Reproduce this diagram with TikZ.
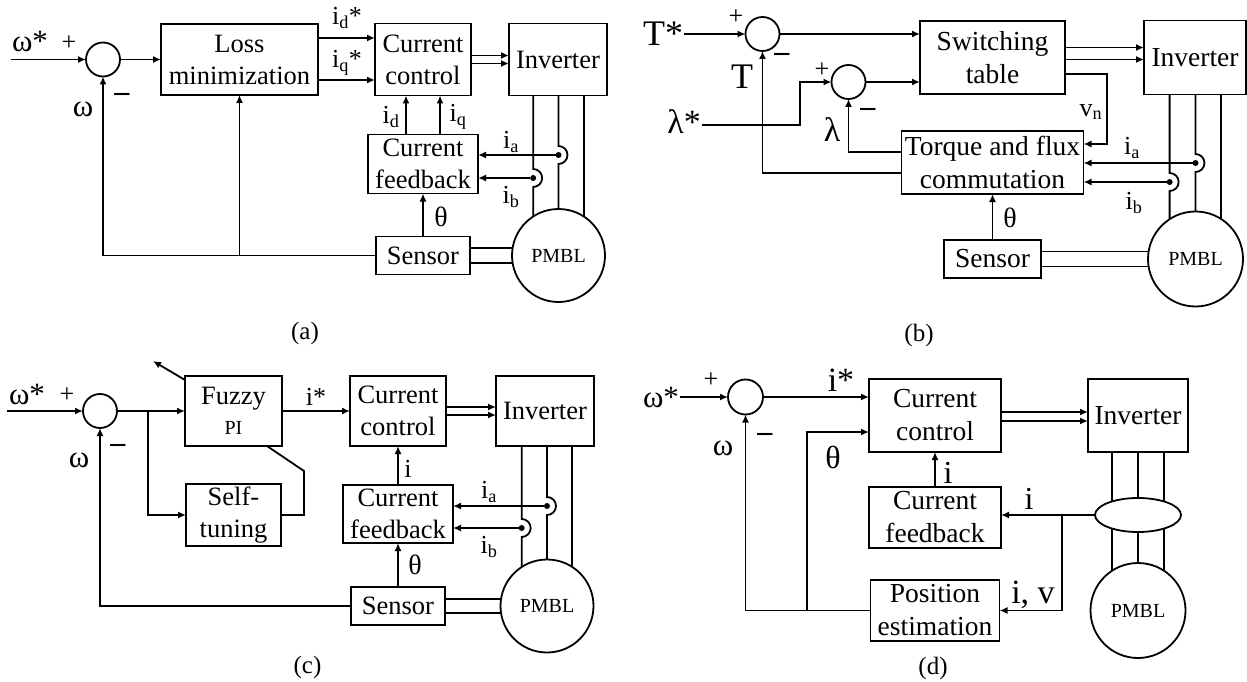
\documentclass[tikz,border=0pt]{standalone}
\usepackage{fontspec}
\setmainfont{Liberation Serif}
\usetikzlibrary{shapes.geometric,arrows.meta}

\begin{document}
\begin{tikzpicture}[x=1pt,y=-1pt]
      \tikzset{
        >={Latex[length=8pt,width=7pt]},
        every path/.style={line width=1.8pt},
        block/.style={rectangle,draw,align=center,inner sep=0pt,outer sep=0pt,font=\fontsize{26.5}{32}\selectfont},
        blockl/.style={block,font=\fontsize{27.5}{33}\selectfont},
        sumnode/.style={circle,draw,inner sep=0pt,outer sep=0pt,minimum size=34pt},
        motor/.style={circle,draw,inner sep=0pt,outer sep=0pt,minimum size=93pt,font=\fontsize{20}{20}\selectfont},
        dotnode/.style={circle,fill,inner sep=0pt,outer sep=0pt,minimum size=6pt},
        lab/.style={inner sep=0pt,font=\fontsize{#1}{#1}\selectfont},
        lab/.default=26
      }
      \useasboundingbox (0,0) rectangle (1247,682);

      % panel a
      \node[sumnode] (sa) at (103,59.5) {};
      \node[block,minimum width=157pt,minimum height=71pt,right of=sa,node distance=136.5pt] (lossa) {Loss\\minimization};
      \node[block,minimum width=96pt,minimum height=72pt,right of=lossa,node distance=183.5pt] (cca) {Current\\control};
      \node[block,minimum width=98pt,minimum height=72pt,right of=cca,node distance=135pt] (inva) {Inverter};
      \node[block,minimum width=110pt,minimum height=59pt,below of=cca,node distance=104.5pt] (fba) {Current\\feedback};
      \node[block,minimum width=94pt,minimum height=38pt,below of=fba,node distance=91.5pt] (sena) {Sensor};
      \node[motor,right of=sena,node distance=135.5pt] (pma) {PMBL};
      \node[dotnode] (ia_a) at (pma.north |- 0,155) {};
      \node[dotnode] (ib_a) at (pma.123 |- 0,178) {};
      \coordinate (ina) at (11,59.5);
      \coordinate (ja) at (lossa.south |- sena.west);

      \draw[->] (ina) -- (sa.west);
      \draw[->] (sa.east) -- (lossa.west);
      \draw[->] ([yshift=21.5pt]lossa.east) -- ([yshift=21.5pt]lossa.east -| cca.west);
      \draw[->] ([yshift=-20.5pt]lossa.east) -- ([yshift=-20.5pt]lossa.east -| cca.west);
      \draw[->] ([yshift=4pt]cca.east) -- ([yshift=4pt]cca.east -| inva.west);
      \draw[->] ([yshift=-4pt]cca.east) -- ([yshift=-4pt]cca.east -| inva.west);
      \draw[->] ([xshift=-17pt]fba.north) -- ([xshift=-17pt]fba.north |- cca.south);
      \draw[->] ([xshift=17pt]fba.north) -- ([xshift=17pt]fba.north |- cca.south);
      \draw[->] (sena.north) -- (fba.south);
      \draw[->] (sena.west) -| (sa.south);
      \draw[->] (ja) -- (lossa.south);
      \draw[->] (ia_a) -- (ia_a -| fba.east);
      \draw[->] (ib_a) -- (ib_a -| fba.east);
      \draw (pma.123 |- inva.south) -- ([yshift=9pt]ib_a.center) arc[start angle=90,end angle=-90,radius=9pt] -- (pma.123);
      \draw (pma.north |- inva.south) -- ([yshift=9pt]ia_a.center) arc[start angle=90,end angle=-90,radius=9pt] -- (pma.north);
      \draw (pma.57 |- inva.south) -- (pma.57);
      \draw (pma.171 -| sena.east) -- (pma.171);
      \draw (pma.189 -| sena.east) -- (pma.189);

      \node[lab=31] (wsa) at (30,42) {ω*};
      \node[lab] (pa) at (69,43) {+};
      \node[lab=30] (ma) at (122,97) {\textbf{–}};
      \node[lab=31] (wa) at (83,109) {ω};
      \node[lab] (idsa) at (347,18) {i\textsubscript{d}*};
      \node[lab] (iqsa) at (347,63) {i\textsubscript{q}*};
      \node[lab] (ida) at (391,117) {i\textsubscript{d}};
      \node[lab] (iqa) at (458,117) {i\textsubscript{q}};
      \node[lab] (iala) at (511,142) {i\textsubscript{a}};
      \node[lab] (ibla) at (511,197) {i\textsubscript{b}};
      \node[lab=28] (tha) at (441,217) {θ};
      \node[lab=25] (capa) at (305,333) {(a)};

      % panel b
      \node[sumnode] (s1b) at (762.5,34) {};
      \node[sumnode] (s2b) at (848.5,82) {};
      \node[blockl,minimum width=145pt,minimum height=73pt] (swb) at (992.5,57.5) {Switching\\table};
      \node[blockl,minimum width=102pt,minimum height=74pt,right of=swb,node distance=202.5pt] (invb) {Inverter};
      \node[blockl,minimum width=182pt,minimum height=63pt,below of=swb,node distance=105pt] (tqb) {Torque and flux\\commutation};
      \node[blockl,minimum width=97pt,minimum height=38pt,below of=tqb,node distance=96.5pt] (senb) {Sensor};
      \node[motor,minimum size=95pt,right of=senb,node distance=203pt] (pmb) {PMBL};
      \node[dotnode] (ia_b) at (pmb.north |- 0,163) {};
      \node[dotnode] (ib_b) at (pmb.123 |- 0,182) {};
      \coordinate (kb) at (800,125);

      \node[lab=36] (tsb) at (663,34) {T*};
      \node[lab=34] (lsb) at (684,122) {λ*};

      \draw[->] (tsb.east |- s1b.west) -- (s1b.west);
      \draw[->] (s1b.east) -- (s1b.east -| swb.west);
      \draw[->] (s2b.east) -- (s2b.east -| swb.west);
      \draw[->] (lsb.east |- kb) -- (kb) |- (s2b.west);
      \draw[->] ([yshift=10pt]swb.east) -- ([yshift=10pt]swb.east -| invb.west);
      \draw[->] ([yshift=-2pt]swb.east) -- ([yshift=-2pt]swb.east -| invb.west);
      \draw[->] ([yshift=-16.5pt]swb.east) -- ++(42pt,0) |- ([yshift=18.5pt]tqb.east);
      \draw[->] ([yshift=10.5pt]tqb.west) -| (s2b.south);
      \draw[->] ([yshift=-10.5pt]tqb.west) -| (s1b.south);
      \draw[->] (senb.north) -- (senb.north |- tqb.south);
      \draw[->] (ia_b) -- (ia_b -| tqb.east);
      \draw[->] (ib_b) -- (ib_b -| tqb.east);
      \draw (pmb.123 |- invb.south) -- ([yshift=9pt]ib_b.center) arc[start angle=90,end angle=-90,radius=9pt] -- (pmb.123);
      \draw (pmb.north |- invb.south) -- ([yshift=9pt]ia_b.center) arc[start angle=90,end angle=-90,radius=9pt] -- (pmb.north);
      \draw (pmb.57 |- invb.south) -- (pmb.57);
      \draw (pmb.171 -| senb.east) -- (pmb.171);
      \draw (pmb.189 -| senb.east) -- (pmb.189);

      \node[lab] (p1b) at (736,17) {+};
      \node[lab=30] (m1b) at (782,57) {\textbf{–}};
      \node[lab=36] (tb) at (742,77) {T};
      \node[lab] (p2b) at (822,70) {+};
      \node[lab=30] (m2b) at (868,112) {\textbf{–}};
      \node[lab=34] (lb) at (832,130) {λ};
      \node[lab] (vnb) at (1091,112) {v\textsubscript{n}};
      \node[lab] (ialb) at (1132,148) {i\textsubscript{a}};
      \node[lab] (iblb) at (1134,203) {i\textsubscript{b}};
      \node[lab=28] (thb) at (1010,218) {θ};
      \node[lab=25] (capb) at (919,335) {(b)};

      % panel c
      \node[sumnode] (sc) at (100,411) {};
      \node[block,minimum width=97pt,minimum height=70pt,right of=sc,node distance=133.5pt] (fzc) {Fuzzy\\[-2pt]{\fontsize{20}{20}\selectfont PI}};
      \node[block,minimum width=96pt,minimum height=70pt,right of=fzc,node distance=164.5pt] (ccc) {Current\\control};
      \node[block,minimum width=98pt,minimum height=70pt,right of=ccc,node distance=147pt] (invc) {Inverter};
      \node[block,minimum width=95pt,minimum height=62pt,below of=fzc,node distance=104pt] (tunec) {Self-\\tuning};
      \node[block,minimum width=110pt,minimum height=58pt,below of=ccc,node distance=103pt] (fbc) {Current\\feedback};
      \node[block,minimum width=94pt,minimum height=38pt,below of=fbc,node distance=92pt] (senc) {Sensor};
      \node[motor,right of=senc,node distance=149pt] (pmc) {PMBL};
      \node[dotnode] (ia_c) at (pmc.north |- 0,506) {};
      \node[dotnode] (ib_c) at (pmc.123 |- 0,528) {};
      \coordinate (inc) at (7,411);
      \coordinate (jc) at (148,411);
      \coordinate (tipc) at (153,361);

      \draw[->] (inc) -- (sc.west);
      \draw[->] (sc.east) -- (fzc.west);
      \draw[->] (jc) |- (tunec.west);
      \draw[->] (fzc.east) -- (ccc.west);
      \draw[->] ([yshift=-4pt]fzc.north west) -- (tipc);
      \draw (tunec.east) -- ++(23pt,0) -- ++(0,44pt) -- ([xshift=33.5pt]fzc.south);
      \draw[->] ([yshift=4pt]ccc.east) -- ([yshift=4pt]ccc.east -| invc.west);
      \draw[->] ([yshift=-4pt]ccc.east) -- ([yshift=-4pt]ccc.east -| invc.west);
      \draw[->] (fbc.north) -- (fbc.north |- ccc.south);
      \draw[->] (senc.north) -- (senc.north |- fbc.south);
      \draw[->] (senc.west) -| (sc.south);
      \draw[->] (ia_c) -- (ia_c -| fbc.east);
      \draw[->] (ib_c) -- (ib_c -| fbc.east);
      \draw (pmc.123 |- invc.south) -- ([yshift=9pt]ib_c.center) arc[start angle=90,end angle=-90,radius=9pt] -- (pmc.123);
      \draw (pmc.north |- invc.south) -- ([yshift=9pt]ia_c.center) arc[start angle=90,end angle=-90,radius=9pt] -- (pmc.north);
      \draw (pmc.57 |- invc.south) -- (pmc.57);
      \draw (pmc.171 -| senc.east) -- (pmc.171);
      \draw (pmc.189 -| senc.east) -- (pmc.189);

      \node[lab=31] (wsc) at (27,394) {ω*};
      \node[lab] (pc) at (67,395) {+};
      \node[lab=30] (mc) at (118,448) {\textbf{–}};
      \node[lab=31] (wc) at (79,460) {ω};
      \node[lab] (isc) at (316,397) {i*};
      \node[lab] (ic) at (408,469) {i};
      \node[lab] (ialc) at (489,492) {i\textsubscript{a}};
      \node[lab] (iblc) at (489,547) {i\textsubscript{b}};
      \node[lab=28] (thc) at (415,565) {θ};
      \node[lab=25] (capc) at (307.5,667) {(c)};

      % panel d
      \node[sumnode,minimum size=35pt] (sd) at (745.5,397) {};
      \node[blockl,minimum width=132pt,minimum height=73pt] (ccd) at (935,415.5) {Current\\control};
      \node[blockl,minimum width=100pt,minimum height=73pt,right of=ccd,node distance=203pt] (invd) {Inverter};
      \node[blockl,minimum width=132pt,minimum height=61pt,below of=ccd,node distance=102pt] (fbd) {Current\\feedback};
      \node[blockl,minimum width=129pt,minimum height=61pt,below of=fbd,node distance=93pt] (posd) {Position\\estimation};
      \node[motor,minimum size=95pt,right of=posd,node distance=203pt] (pmd) {PMBL};
      \coordinate (kd) at (1062,516);
      \coordinate (jd) at (807,610.5);

      \node[lab=31] (wsd) at (661,397) {ω*};

      \draw[->] (wsd.east |- sd.west) -- (sd.west);
      \draw[->] (sd.east) -- (sd.east -| ccd.west);
      \draw[->] ([yshift=3.5pt]ccd.east) -- ([yshift=3.5pt]ccd.east -| invd.west);
      \draw[->] ([yshift=-5.5pt]ccd.east) -- ([yshift=-5.5pt]ccd.east -| invd.west);
      \draw[->] (fbd.north) -- (ccd.south);
      \draw[->] (posd.west) -| (sd.south);
      \draw[->] (jd) |- ([yshift=-16.5pt]ccd.west);
      \draw (pmd.123 |- invd.south) -- (pmd.123);
      \draw (pmd.north |- invd.south) -- (pmd.north);
      \draw (pmd.57 |- invd.south) -- (pmd.57);
      \node[ellipse,draw,fill=white,inner sep=0pt,outer sep=0pt,minimum width=86pt,minimum height=34pt,below of=invd,node distance=99.5pt] (elld) {};
      \draw[->] (elld.west) -- (elld.west -| fbd.east);
      \draw[->] (kd) |- (posd.east);

      \node[lab] (pd) at (711,380) {+};
      \node[lab=30] (md) at (765,437) {\textbf{–}};
      \node[lab=31] (wd) at (723,448) {ω};
      \node[lab=34] (isd) at (841,380) {i*};
      \node[lab=32] (thd) at (833,457) {θ};
      \node[lab=32] (ifd) at (948,473) {i};
      \node[lab=32] (id) at (1029,499) {i};
      \node[lab=34] (ivd) at (1033,595) {i, v};
      \node[lab=25] (capd) at (933,668) {(d)};
    \end{tikzpicture}
\end{document}
